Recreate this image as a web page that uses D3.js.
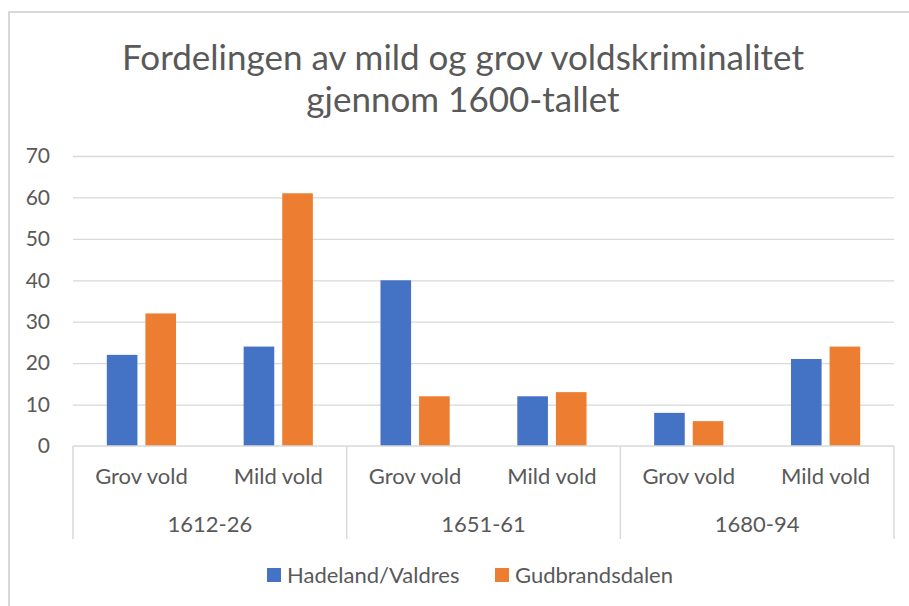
<!DOCTYPE html>
<html>
<head>
<meta charset="utf-8">
<script src="https://cdn.jsdelivr.net/npm/d3@7"></script>
<style>
  body { margin: 0; background: #fff; }
  svg text { font-family: Lato, "Open Sans", sans-serif; fill: #595959; }
</style>
</head>
<body>
<div id="chart"></div>
<script>
const periods = ["1612-26", "1651-61", "1680-94"];
const types = ["Grov vold", "Mild vold"];
const seriesNames = ["Hadeland/Valdres", "Gudbrandsdalen"];
const hadeland = [22, 24, 40, 12, 8, 21];
const gudbrand = [32, 61, 12, 13, 6, 24];
const yTicks = [0, 10, 20, 30, 40, 50, 60, 70];
const colors = ["#4472C4", "#ED7D31"];

const w = 909, h = 606;
const plotL = 73, plotR = 894, plotT = 156, plotB = 446;
const labelSize = "22px";

const svg = d3.select("#chart").append("svg")
  .attr("width", w).attr("height", h);

// chart frame
svg.append("rect")
  .attr("x", 9).attr("y", 12)
  .attr("width", w + 20).attr("height", h + 20)
  .attr("fill", "none").attr("stroke", "#d9d9d9").attr("stroke-width", 2);

// title
svg.append("text").attr("x", 463).attr("y", 70)
  .attr("text-anchor", "middle").style("font-size", "35px")
  .text("Fordelingen av mild og grov voldskriminalitet");
svg.append("text").attr("x", 463).attr("y", 112)
  .attr("text-anchor", "middle").style("font-size", "35px")
  .text("gjennom 1600-tallet");

// flattened categories
const cats = [];
periods.forEach(p => types.forEach(t => cats.push(p + "|" + t)));

const yScale = d3.scaleLinear().domain([0, 70]).range([plotB, plotT]);
const xScale = d3.scaleBand().domain(cats).range([plotL, plotR]);
const xInner = d3.scaleBand().domain(seriesNames).range([0, xScale.bandwidth()])
  .paddingInner(0.207).paddingOuter(0.876);

// gridlines
const yAxis = d3.axisLeft(yScale).tickValues(yTicks)
  .tickSize(-(plotR - plotL)).tickFormat(d3.format("d"));
const gy = svg.append("g").attr("transform", "translate(" + plotL + ",0)").call(yAxis);
gy.select(".domain").remove();
gy.selectAll(".tick line").attr("stroke", "#d9d9d9").attr("stroke-width", 1.3)
  .filter(d => d === 0).remove();
gy.selectAll(".tick text").attr("x", -23).style("font-size", "21px").attr("fill", "#595959");

// bars
const rows = cats.map((c, i) => ({ cat: c, vals: [hadeland[i], gudbrand[i]] }));
const g = svg.selectAll(".cat").data(rows).enter().append("g")
  .attr("transform", d => "translate(" + xScale(d.cat) + ",0)");
g.selectAll("rect").data(d => d.vals.map((v, j) => ({ s: seriesNames[j], v: v, j: j })))
  .enter().append("rect")
  .attr("x", d => xInner(d.s))
  .attr("width", xInner.bandwidth())
  .attr("y", d => yScale(d.v))
  .attr("height", d => yScale(0) - yScale(d.v))
  .attr("fill", d => colors[d.j]);

// category axis
const axisCol = "#d9d9d9";
svg.append("line").attr("x1", plotL).attr("x2", plotR)
  .attr("y1", plotB).attr("y2", plotB)
  .attr("stroke", axisCol).attr("stroke-width", 1.5);
const groupW = (plotR - plotL) / periods.length;
d3.range(periods.length + 1).forEach(i => {
  svg.append("line")
    .attr("x1", plotL + i * groupW).attr("x2", plotL + i * groupW)
    .attr("y1", plotB).attr("y2", 539)
    .attr("stroke", axisCol).attr("stroke-width", 1.5);
});
svg.selectAll(".sub").data(cats).enter().append("text")
  .attr("x", d => xScale(d) + xScale.bandwidth() / 2)
  .attr("y", 484).attr("text-anchor", "middle").style("font-size", labelSize)
  .text(d => d.split("|")[1]);
svg.selectAll(".per").data(periods).enter().append("text")
  .attr("x", (d, i) => plotL + (i + 0.5) * groupW)
  .attr("y", 532).attr("text-anchor", "middle").style("font-size", labelSize)
  .text(d => d);

// legend
const legX = [267, 495];
seriesNames.forEach((s, i) => {
  svg.append("rect").attr("x", legX[i]).attr("y", 568)
    .attr("width", 14).attr("height", 14).attr("fill", colors[i]);
  svg.append("text").attr("x", legX[i] + 20).attr("y", 583)
    .style("font-size", labelSize).text(s);
});
</script>
</body>
</html>
